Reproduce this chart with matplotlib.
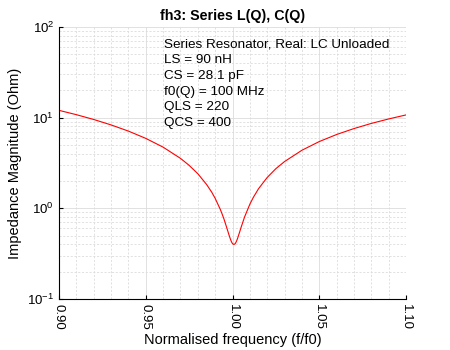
import numpy as np
import matplotlib.pyplot as plt
from matplotlib.ticker import MultipleLocator, LogLocator, NullFormatter

# valores
freq_norm = [0.90, 0.91, 0.92, 0.93, 0.94, 0.95, 0.96, 0.97, 0.975, 0.98, 0.985,
             0.988, 0.99, 0.993, 0.994, 0.995, 0.996, 0.997, 0.998, 0.9985, 0.999,
             0.9995, 1.0, 1.0008, 1.0015, 1.002, 1.0025, 1.003, 1.004, 1.005, 1.007,
             1.01, 1.012, 1.015, 1.02, 1.025, 1.03, 1.04, 1.05, 1.06, 1.07, 1.08,
             1.09, 1.10]
z_mag = [12.04, 10.79, 9.55, 8.32, 7.11, 5.91, 4.73, 3.56, 2.98, 2.41, 1.84,
         1.51, 1.29, 0.97, 0.867, 0.77, 0.672, 0.585, 0.508, 0.475, 0.447,
         0.424, 0.408, 0.399, 0.407, 0.422, 0.443, 0.471, 0.539, 0.621, 0.807,
         1.11, 1.32, 1.645, 2.19, 2.74, 3.28, 4.37, 5.45, 6.52, 7.58, 8.64,
         9.68, 10.72]

info_lines = ["Series Resonator, Real: LC Unloaded", "LS = 90 nH", "CS = 28.1 pF",
              "f0(Q) = 100 MHz", "QLS = 220", "QCS = 400"]

plt.rcParams['font.family'] = ['Liberation Sans', 'DejaVu Sans']
plt.rcParams['mathtext.fontset'] = 'custom'
plt.rcParams['mathtext.rm'] = 'Liberation Sans'

fig = plt.figure(figsize=(4.5, 3.5), dpi=100)
ax = fig.add_axes([59/450, 1 - 299/350, (406 - 59)/450, (299 - 27)/350])

ax.plot(freq_norm, z_mag, color='red', lw=0.8)
ax.set_yscale('log')
ax.set_xlim(0.90, 1.10)
ax.set_ylim(0.1, 100)

ax.xaxis.set_minor_locator(MultipleLocator(0.01))
ax.set_xticks([0.90, 0.95, 1.00, 1.05, 1.10])
ax.set_xticklabels(["0.90", "0.95", "1.00", "1.05", "1.10"], rotation=270)
ax.yaxis.set_major_locator(LogLocator(base=10))
ax.yaxis.set_minor_locator(LogLocator(base=10, subs=np.arange(2, 10)))
ax.yaxis.set_minor_formatter(NullFormatter())

ax.grid(True, which='major', color='#dcdcdc', lw=0.6, ls='-')
ax.grid(True, which='minor', color='#dcdcdc', lw=0.6, ls=(0, (2.5, 2)))
ax.set_axisbelow(True)

for s in ['top', 'right']:
    ax.spines[s].set_visible(False)
ax.tick_params(which='both', direction='in', labelsize=9.5, top=False, right=False)
ax.tick_params(which='major', length=3)
ax.tick_params(which='minor', length=0)

ax.set_title("fh3: Series L(Q), C(Q)", fontsize=10.3, fontweight='bold', pad=5)
ax.set_xlabel("Normalised frequency (f/f0)", fontsize=10.5, labelpad=2)
ax.set_ylabel("Impedance Magnitude (Ohm)", fontsize=10.5, labelpad=4)

# cuadro de texto con los parametros
ax.text(164/450, 1 - 125.7/350, "\n".join(info_lines), transform=fig.transFigure,
        fontsize=9.7, va='baseline', ha='left', linespacing=1.40)

plt.savefig("out.png", dpi=100)
